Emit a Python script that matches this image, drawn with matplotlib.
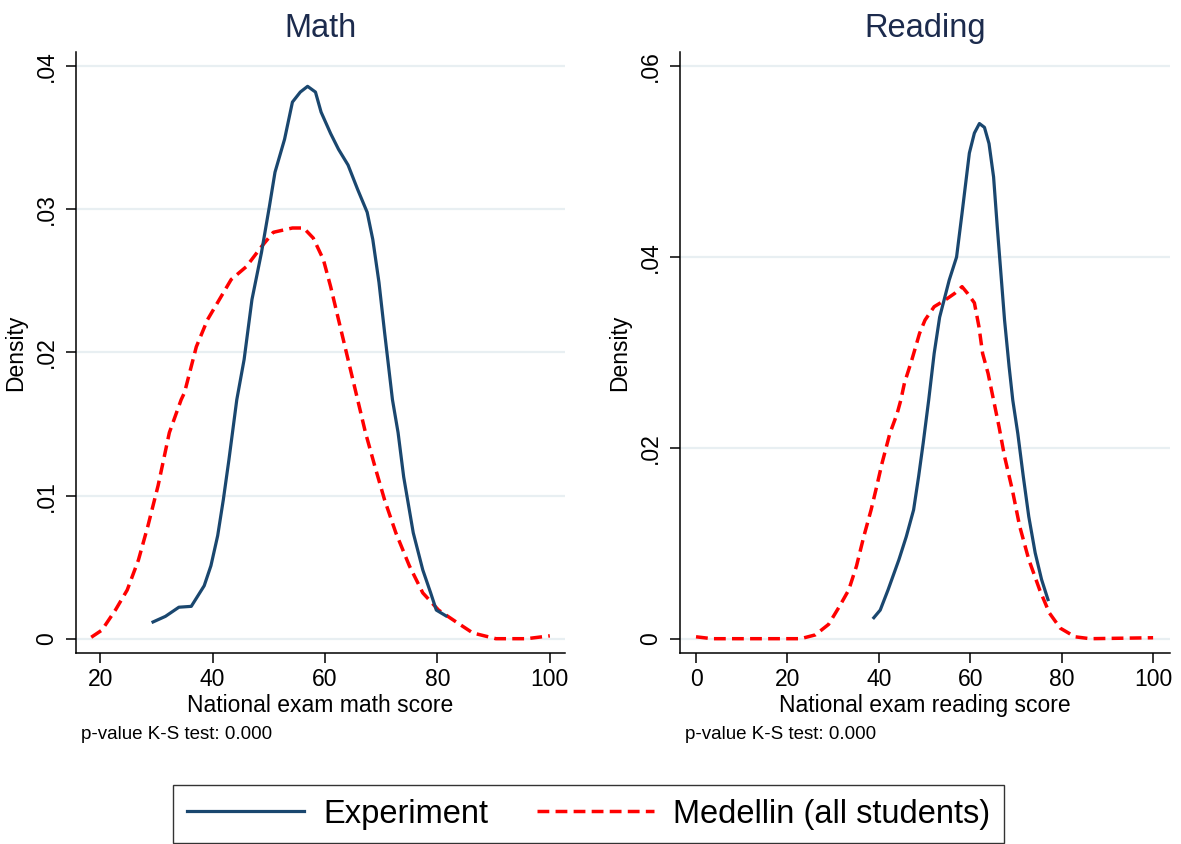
import matplotlib
matplotlib.use("Agg")
import matplotlib.pyplot as plt

plt.rcParams["font.family"] = ["Liberation Sans", "DejaVu Sans"]

# Math panel: density estimates
math_exp_x = [29.4, 31.6, 34.0, 36.2, 38.5, 39.7, 40.9, 41.9, 42.9, 44.3, 45.6, 47.0,
              48.7, 50.1, 51.1, 52.8, 54.2, 55.6, 56.9, 58.3, 59.3, 61.0, 62.4, 64.1,
              65.8, 67.5, 68.5, 69.6, 70.6, 72.0, 73.0, 74.0, 75.7, 77.4, 78.8, 79.8, 81.5]
math_exp_y = [0.00117, 0.00156, 0.0022, 0.00226, 0.0037, 0.0051, 0.0072, 0.0097, 0.0125,
              0.0167, 0.0195, 0.0237, 0.027, 0.0302, 0.0326, 0.0349, 0.0375, 0.0382,
              0.0386, 0.0382, 0.0368, 0.0353, 0.0342, 0.0331, 0.0314, 0.0298, 0.0279,
              0.0249, 0.0214, 0.0167, 0.0144, 0.0113, 0.0074, 0.0048, 0.0032, 0.0020, 0.0016]
math_med_x = [18.4, 20.3, 22.7, 24.8, 26.8, 28.5, 30.3, 32.3, 34.4, 35.0, 37.1, 39.1, 41.2,
              43.3, 46.0, 48.7, 50.8, 54.2, 56.2, 57.9, 59.7, 61.0, 62.4, 63.8, 65.5, 67.2,
              68.9, 70.6, 72.6, 75.0, 77.4, 80.2, 83.6, 86.3, 90.4, 95.9, 100.0]
math_med_y = [0.0001, 0.0006, 0.002, 0.0034, 0.0055, 0.0079, 0.0107, 0.0144, 0.0167, 0.0172,
              0.0204, 0.0223, 0.0237, 0.0251, 0.026, 0.0274, 0.0284, 0.0287, 0.0287, 0.028,
              0.0265, 0.0246, 0.0223, 0.02, 0.0172, 0.0144, 0.012, 0.0097, 0.0074, 0.0051,
              0.0032, 0.002, 0.0011, 0.0004, 0.0, 0.0, 0.0002]

# Reading panel
read_exp_x = [38.9, 40.3, 42.0, 44.4, 46.0, 47.6, 48.7, 49.7, 50.9, 52.1, 53.3, 55.4, 57.0,
              58.2, 59.8, 60.9, 62.0, 63.1, 64.1, 65.1, 65.9, 66.7, 67.5, 68.5, 69.3, 70.4,
              71.6, 72.8, 74.2, 75.6, 77.0]
read_exp_y = [0.0022, 0.003, 0.0051, 0.0083, 0.0107, 0.0135, 0.017, 0.0205, 0.025, 0.0299,
              0.0337, 0.0376, 0.04, 0.0446, 0.0509, 0.053, 0.054, 0.0536, 0.0519, 0.0484,
              0.0432, 0.0383, 0.0334, 0.0285, 0.025, 0.0215, 0.017, 0.0128, 0.009, 0.0062,
              0.0041]
read_med_x = [0.0, 3.5, 22.9, 26.1, 29.0, 31.4, 33.4, 35.1, 36.7, 38.3, 39.5, 40.7, 42.4,
              44.0, 44.8, 45.6, 47.2, 48.9, 50.1, 52.1, 54.5, 56.6, 58.2, 59.4, 60.9, 61.9,
              62.7, 63.9, 65.1, 66.3, 67.5, 69.2, 70.8, 72.8, 75.2, 77.3, 79.7, 82.9, 86.2,
              100.0]
read_med_y = [0.0002, 0.0, 0.0, 0.0004, 0.0015, 0.0034, 0.0051, 0.0076, 0.0107, 0.0135,
              0.0159, 0.0184, 0.0215, 0.0236, 0.025, 0.0268, 0.0292, 0.032, 0.0334, 0.0348,
              0.0355, 0.0362, 0.0369, 0.0362, 0.0352, 0.0327, 0.0299, 0.0278, 0.025, 0.0222,
              0.0191, 0.0156, 0.0118, 0.0083, 0.0051, 0.0027, 0.0011, 0.0002, 0.0, 0.0001]

math_yticks = [0, 0.01, 0.02, 0.03, 0.04]
math_ylabels = ["0", ".01", ".02", ".03", ".04"]
read_yticks = [0, 0.02, 0.04, 0.06]
read_ylabels = ["0", ".02", ".04", ".06"]

NAVY = "#1a476f"
RED = "#ff0000"
GRID = "#e8eff2"
TITLE = "#1c2b4d"

fig = plt.figure(figsize=(11.81, 8.44), dpi=100)
ax1 = fig.add_axes([0.0644, 0.2263, 0.4140, 0.7121])
ax2 = fig.add_axes([0.5758, 0.2263, 0.4149, 0.7121])

panels = [
    (ax1, "Math", math_exp_x, math_exp_y, math_med_x, math_med_y, (15.7, 102.7),
     (-0.0010, 0.0410), math_yticks, math_ylabels, [20, 40, 60, 80, 100],
     "National exam math score"),
    (ax2, "Reading", read_exp_x, read_exp_y, read_med_x, read_med_y, (-3.5, 103.7),
     (-0.0015, 0.0615), read_yticks, read_ylabels, [0, 20, 40, 60, 80, 100],
     "National exam reading score"),
]

for ax, title, ex, ey, mx, my, xlim, ylim, yt, yl, xt, xlab in panels:
    for y in yt:
        ax.axhline(y, color=GRID, lw=1.6, zorder=0)
    l1, = ax.plot(ex, ey, color=NAVY, lw=2.3, label="Experiment", zorder=3)
    l2, = ax.plot(mx, my, color=RED, lw=2.5, dashes=(3.4, 1.8), label="Medellin (all students)",
                  zorder=2)
    ax.set_xlim(*xlim)
    ax.set_ylim(*ylim)
    ax.set_xticks(xt)
    ax.set_yticks(yt)
    ax.set_yticklabels(yl, rotation=90, va="center")
    ax.tick_params(labelsize=16.5, length=7, width=1.1, pad=4)
    ax.tick_params(axis="y", pad=6)
    for s in ["top", "right"]:
        ax.spines[s].set_visible(False)
    for s in ["left", "bottom"]:
        ax.spines[s].set_linewidth(1.1)
    ax.set_title(title, fontsize=23.5, color=TITLE, pad=11)
    ax.set_xlabel(xlab, fontsize=16.5, labelpad=2)
    ax.set_ylabel("Density", fontsize=16.5, labelpad=6)
    ax.text(0.01, -0.136, "p-value K-S test: 0.000", transform=ax.transAxes,
            fontsize=13.5, va="center", ha="left")

leg = fig.legend([l1, l2], ["Experiment", "Medellin (all students)"], loc="center",
                 bbox_to_anchor=(0.4983, 0.0355), ncol=2, fontsize=23.5, frameon=True,
                 fancybox=False, edgecolor="black", handlelength=3.6, handletextpad=0.58,
                 columnspacing=1.5, borderpad=0.4, borderaxespad=0)
leg.get_frame().set_linewidth(1.0)

fig.savefig("out.png", dpi=100)
